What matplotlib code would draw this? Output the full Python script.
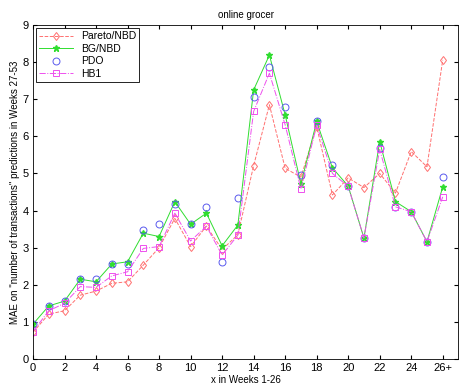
import matplotlib
matplotlib.use("Agg")
import matplotlib.pyplot as plt

plt.rcParams["font.family"] = ["Liberation Sans", "DejaVu Sans"]

# x positions (26 = "26+")
weeks = list(range(27))
xtick_labels = ["0", "2", "4", "6", "8", "10", "12", "14", "16", "18", "20", "22", "24", "26+"]

pareto = [0.72, 1.21, 1.30, 1.72, 1.83, 2.04, 2.08, 2.53, 3.00, 3.79, 3.03, 3.58, 2.95,
          3.35, 5.21, 6.85, 5.14, 4.90, 6.26, 4.42, 4.88, 4.62, 5.00, 4.47, 5.59, 5.18, 8.06]
bgnbd = [0.94, 1.43, 1.56, 2.15, 2.08, 2.56, 2.62, 3.39, 3.30, 4.24, 3.63, 3.93, 3.05,
         3.61, 7.25, 8.19, 6.58, 4.72, 6.40, 5.15, 4.66, 3.26, 5.86, 4.24, 3.97, 3.16, 4.64]
pdo = [0.94, 1.43, 1.56, 2.15, 2.15, 2.56, 2.56, 3.48, 3.63, 4.18, 3.63, 4.09, 2.62,
       4.33, 7.07, 7.88, 6.80, 4.96, 6.40, 5.23, 4.66, 3.26, 5.68, 4.10, 3.97, 3.16, 4.91]
hb1 = [0.74, 1.30, 1.50, 1.95, 1.93, 2.24, 2.35, 2.98, 3.03, 3.93, 3.18, 3.58, 2.80,
       3.34, 6.67, 7.70, 6.31, 4.58, 6.30, 5.00, 4.65, 3.26, 5.65, 4.10, 3.97, 3.16, 4.37]

fig = plt.figure(figsize=(4.59, 3.91), dpi=100)
ax = fig.add_axes([33 / 459, 32 / 391, 425.5 / 459, 334 / 391])

ax.plot(weeks, pareto, linestyle="--", color="#ff7070", marker="d", mfc="none", ms=4.5,
        lw=0.7, mew=0.7, label="Pareto/NBD")
ax.plot(weeks, bgnbd, linestyle="-", color="#30dd30", marker="*", ms=4.5, lw=0.7,
        label="BG/NBD")
ax.plot(weeks, pdo, linestyle="none", color="#5a5aee", marker="o", mfc="none", ms=5,
        mew=0.7, label="PDO")
ax.plot(weeks, hb1, linestyle="-.", color="#ee50ee", marker="s", mfc="none", ms=4,
        lw=0.7, mew=0.7, label="HB1")

ax.set_xlim(0, 27)
ax.set_ylim(0, 9)
ax.set_xticks(range(0, 27, 2))
ax.set_xticklabels(xtick_labels)
ax.set_yticks(range(10))
ax.tick_params(direction="in", top=True, right=True, labelsize=8, length=3, pad=3)
for s in ax.spines.values():
    s.set_linewidth(0.6)

ax.set_title("online grocer", fontsize=7, pad=5)
ax.set_xlabel("x in Weeks 1-26", fontsize=7, labelpad=1)
ax.set_ylabel('MAE on "number of transactions" predictions in Weeks 27-53',
              fontsize=7, labelpad=2)

leg = ax.legend(loc="upper left", fontsize=7.5, fancybox=False, framealpha=1,
                edgecolor="black", borderpad=0.3, labelspacing=0.25,
                handlelength=3.2, borderaxespad=0.3)
leg.get_frame().set_linewidth(0.6)

fig.savefig("out.png", dpi=100)
